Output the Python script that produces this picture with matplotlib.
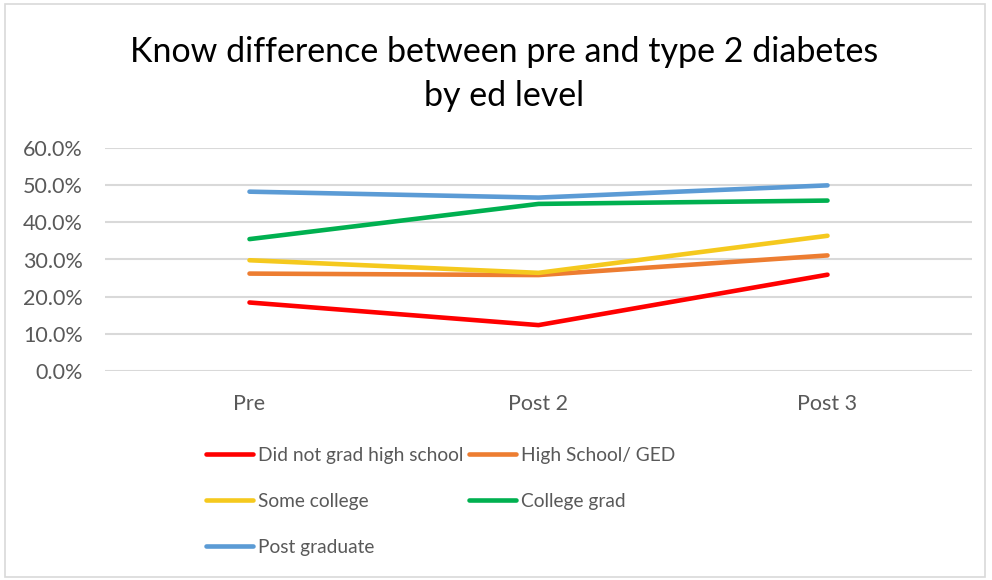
import matplotlib
matplotlib.use("Agg")
import matplotlib.pyplot as plt
from matplotlib.patches import Rectangle

plt.rcParams['font.family'] = ['Lato', 'DejaVu Sans']

# Data
categories = ["Pre", "Post 2", "Post 3"]
series_names = ["Did not grad high school", "High School/ GED", "Some college",
                "College grad", "Post graduate"]
did_not_grad = [18.4, 12.3, 25.9]
high_school_ged = [26.2, 25.8, 31.1]
some_college = [29.8, 26.4, 36.4]
college_grad = [35.5, 45.0, 45.9]
post_graduate = [48.3, 46.7, 50.0]
y_ticks = [0, 10, 20, 30, 40, 50, 60]

series_values = [did_not_grad, high_school_ged, some_college, college_grad, post_graduate]
colors = ["#FF0000", "#ED7D31", "#F5C91E", "#00B050", "#5B9BD5"]

W, H = 992, 580
fig = plt.figure(figsize=(W / 100, H / 100), dpi=100)
fig.patch.set_facecolor("white")

# chart-area border
fig.add_artist(Rectangle((5 / W, 3 / H), 980 / W, 573 / H, transform=fig.transFigure,
                         fill=False, edgecolor="#D9D9D9", linewidth=1.2))

left, right = 105 / W, 972 / W
bottom, top = 1 - 370.7 / H, 1 - 148.3 / H
ax = fig.add_axes([left, bottom, right - left, top - bottom])

x = list(range(len(categories)))
handles = []
for name, vals, c in zip(series_names, series_values, colors):
    h, = ax.plot(x, vals, color=c, linewidth=3.3, solid_capstyle="round",
                 solid_joinstyle="round", label=name, zorder=3)
    handles.append(h)

ax.set_xlim(-0.5, len(categories) - 0.5)
ax.set_ylim(0, 60)
ax.set_yticks(y_ticks)
ax.set_yticklabels([f"{v:.1f}%" for v in y_ticks])
ax.set_xticks(x)
ax.set_xticklabels(categories)
ax.tick_params(axis="both", length=0, labelsize=15.5, colors="#595959")
ax.tick_params(axis="y", pad=16)
ax.tick_params(axis="x", pad=17)
ax.grid(axis="y", color="#D9D9D9", linewidth=1.5, zorder=0)
for s in ax.spines.values():
    s.set_visible(False)
ax.set_facecolor("none")

fig.text(504 / W, 1 - 74 / H, "Know difference between pre and type 2 diabetes\nby ed level",
         ha="center", va="center", fontsize=24.5, color="#000000", linespacing=1.45)

order = [0, 2, 4, 1, 3]
fig.legend([handles[i] for i in order], [series_names[i] for i in order],
           loc="upper left", bbox_to_anchor=(206 / W, 1 - 447 / H), ncol=2,
           frameon=False, fontsize=13.8, handlelength=2.45, handletextpad=0.25,
           columnspacing=0.3, labelspacing=1.5, borderpad=0, borderaxespad=0,
           labelcolor="#595959")

fig.savefig("out.png", dpi=100)
